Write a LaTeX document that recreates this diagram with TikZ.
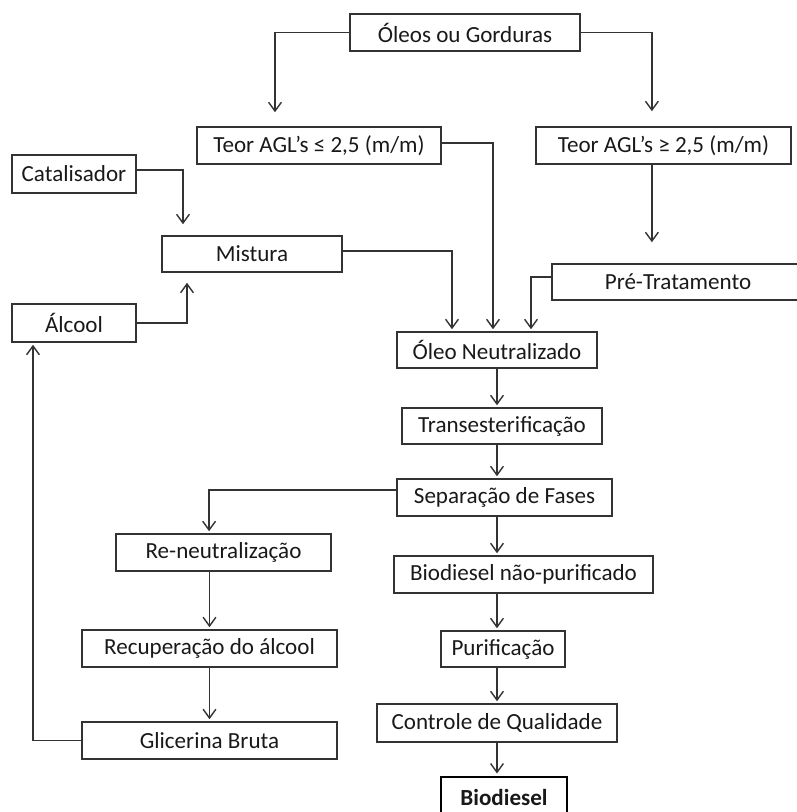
\documentclass[tikz,border=0pt]{standalone}
\usepackage{fontspec}
\setmainfont{Carlito}
\usetikzlibrary{arrows.meta}

\begin{document}
\begin{tikzpicture}[
  x=0.025cm, y=-0.025cm,
  font=\fontsize{16.4}{19}\selectfont,
  box/.style={draw=black!80, line width=1.1pt, align=center, inner sep=0pt,
              minimum height=0.925cm, text=black!90},
  endbox/.style={box, draw=black, line width=2.1pt,
                 font=\fontsize{16.4}{19}\selectfont\bfseries},
  arr/.style={draw=black!80, line width=1pt,
              -{Straight Barb[length=2.2mm, width=3.2mm]}, shorten >=0.05cm}
]
\useasboundingbox (0,0) rectangle (797,812);

\node[box, minimum width=5.75cm] (oleos) at (465,32.5) {Óleos ou Gorduras};
\node[box, minimum width=6.1cm] (teorlow) at (319,145.5) {Teor AGL’s ≤ 2,5 (m/m)};
\node[box, minimum width=6.375cm] (teorhigh) at (663.5,145.5) {Teor AGL’s ≥ 2,5 (m/m)};
\node[box, minimum width=3.1cm, minimum height=0.95cm] (catal) at (74,174) {Catalisador};
\node[box, minimum width=4.5cm, minimum height=0.9cm] (mistura) at (252,254) {Mistura};
\node[box, minimum width=3.1cm, minimum height=0.95cm] (alcool) at (74,323) {Álcool};
\node[box, minimum width=6.3cm, minimum height=0.9cm] (pretrat) at (678,282) {Pré-Tratamento};
\node[box, minimum width=5cm, minimum height=0.9cm] (oleoneut) at (497,350) {Óleo Neutralizado};
\node[box, minimum width=5cm, minimum height=0.9cm] (trans) at (502,426) {Transesterificação};
\node[box, minimum width=5.375cm] (separ) at (504.5,497.5) {Separação de Fases};
\node[box, minimum width=5.375cm] (reneut) at (223.5,552.5) {Re-neutralização};
\node[box, minimum width=6.475cm] (bionp) at (523.5,574.5) {Biodiesel não-purificado};
\node[box, minimum width=6.375cm] (recup) at (209.5,648.5) {Recuperação do álcool};
\node[box, minimum width=3.1cm, minimum height=0.9cm] (purif) at (503,649) {Purificação};
\node[box, minimum width=6.375cm] (glic) at (209.5,740.5) {Glicerina Bruta};
\node[box, minimum width=6cm, minimum height=0.95cm] (contr) at (497,723) {Controle de Qualidade};
\node[endbox, minimum width=3.15cm, minimum height=1cm] (biod) at (504,797) {Biodiesel};

% main column
\coordinate (col) at (497,0);

% oil split by acid content
\draw[arr, shorten >=0.35cm] (oleos.west) -| ([xshift=-1.1cm]teorlow.north);
\draw[arr, shorten >=0.375cm] (oleos.east) -| ([xshift=-0.29cm]teorhigh.north);
\draw[arr] ([yshift=0.06cm]teorlow.east) -| ([xshift=-0.1cm]oleoneut.north);
\draw[arr, shorten >=0.525cm] ([xshift=-0.29cm]teorhigh.south)
  -- ([xshift=-0.29cm]teorhigh.south |- pretrat.north);
\draw[arr] ([yshift=0.125cm]pretrat.west) -| ([xshift=0.85cm]oleoneut.north);

% catalyst and alcohol
\draw[arr, shorten >=0.275cm] ([yshift=0.1cm]catal.east) -| ([xshift=-1.725cm]mistura.north);
\draw[arr, shorten >=0.25cm] (alcool.east) -| ([xshift=-1.625cm]mistura.south);
\draw[arr] ([yshift=0.075cm]mistura.east) -| ([xshift=-1.125cm]oleoneut.north);

% reaction and product line
\draw[arr] (col |- oleoneut.south) -- (col |- trans.north);
\draw[arr] (col |- trans.south) -- (col |- separ.north);
\draw[arr] (col |- separ.south) -- (col |- bionp.north);
\draw[arr] (col |- bionp.south) -- (col |- purif.north);
\draw[arr] (col |- purif.south) -- (col |- contr.north);
\draw[arr] (col |- contr.south) -- (col |- biod.north);

% glycerol phase and alcohol recovery
\draw[arr] ([yshift=0.19cm]separ.west) -| ([xshift=-0.36cm]reneut.north);
\draw[arr] (recup.north |- reneut.south) -- (recup.north);
\draw[arr] (recup) -- (glic);
\draw[arr] (glic.west) -| ([xshift=-1.025cm]alcool.south);
\end{tikzpicture}
\end{document}
